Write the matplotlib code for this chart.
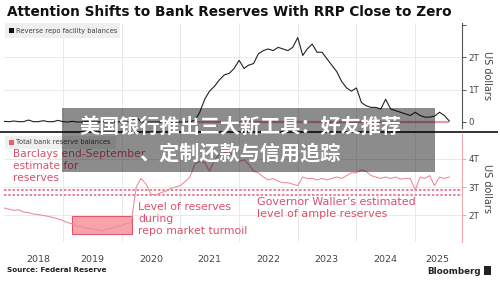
import matplotlib
matplotlib.use('Agg')
import matplotlib.pyplot as plt
import matplotlib.dates as mdates
import pandas as pd
from matplotlib.patches import Rectangle
from matplotlib.lines import Line2D

# ---------------- data ----------------
months = pd.date_range('2018-01-01', '2025-08-01', freq='MS')

# Reverse repo facility balances (trillion USD)
rrp = [0.02, 0.01, 0.03, 0.01, 0.01, 0.06, 0.01, 0.01, 0.04, 0.01, 0.01, 0.05,
       0.01, 0.00, 0.02, 0.00, 0.00, 0.02, 0.00, 0.00, 0.01, 0.00, 0.00, 0.01,
       0.00, 0.00, 0.01, 0.15, 0.00, 0.00, 0.00, 0.00, 0.00, 0.00, 0.00, 0.00,
       0.00, 0.00, 0.01, 0.05, 0.30, 0.70, 0.95, 1.10, 1.30, 1.45, 1.50, 1.65,
       1.90, 1.65, 1.75, 1.80, 2.10, 2.20, 2.25, 2.20, 2.30, 2.25, 2.20, 2.30,
       2.60, 2.05, 2.25, 2.40, 2.15, 2.15, 1.95, 1.75, 1.55, 1.25, 1.05, 0.95,
       1.05, 0.60, 0.50, 0.45, 0.45, 0.40, 0.70, 0.40, 0.35, 0.30, 0.25, 0.20,
       0.30, 0.20, 0.15, 0.15, 0.18, 0.30, 0.20, 0.03]

# Total bank reserve balances (trillion USD)
reserves = [2.26, 2.22, 2.18, 2.20, 2.12, 2.10, 2.05, 2.03, 2.00, 1.97, 1.93, 1.88,
            1.82, 1.75, 1.70, 1.62, 1.60, 1.55, 1.52, 1.50, 1.45, 1.52, 1.55, 1.62,
            1.65, 1.72, 1.75, 3.00, 3.30, 3.10, 2.75, 2.72, 2.80, 2.85, 2.95, 3.00,
            3.05, 3.20, 3.35, 3.80, 3.90, 3.85, 3.55, 3.95, 4.15, 4.20, 4.25, 4.05,
            3.90, 3.95, 3.80, 3.55, 3.50, 3.35, 3.25, 3.30, 3.20, 3.15, 3.15, 3.10,
            3.05, 3.35, 3.30, 3.30, 3.25, 3.30, 3.25, 3.30, 3.35, 3.30, 3.40, 3.50,
            3.50, 3.60, 3.55, 3.40, 3.35, 3.30, 3.35, 3.30, 3.35, 3.28, 3.30, 3.30,
            2.90, 3.35, 3.30, 3.40, 3.05, 3.35, 3.30, 3.35]

barclays_est = 2.90
waller_est = 2.72
turmoil_start, turmoil_end = '2019-03-01', '2020-03-05'
turmoil_low, turmoil_high = 1.35, 1.98
rrp_zero_start, rrp_zero_end = '2021-04-01', '2025-08-01'

year_labels = ['2018', '2019', '2020', '2021', '2022', '2023', '2024', '2025']
year_label_dates = ['2018-08-03', '2019-07-01', '2020-07-01', '2021-07-01',
                    '2022-07-01', '2023-07-01', '2024-07-01', '2025-05-20']
year_bounds = ['2019-01-01', '2020-01-01', '2021-01-01', '2022-01-01',
               '2023-01-01', '2024-01-01', '2025-01-01']

# ---------------- figure ----------------
W, H = 500, 282
fig = plt.figure(figsize=(5.0, 2.82), dpi=100)
fig.patch.set_facecolor('white')

def fx(x):
    return x / W

def fy(y):
    return 1 - y / H

def box(x0, y0, x1, y1):
    return [fx(x0), fy(y1), fx(x1) - fx(x0), fy(y0) - fy(y1)]

xmin = pd.Timestamp('2018-01-01')
xmax = pd.Timestamp('2025-10-19')

PINK_LINE = '#ec8f9c'
PINK_TXT = '#d9506a'
GRID = '#e6e6e6'
TICK_TXT = '#444444'

ax1 = fig.add_axes(box(4.3, 23, 462, 128))
ax2 = fig.add_axes(box(4.3, 134, 462, 242))

for ax in (ax1, ax2):
    ax.set_xlim(xmin, xmax)
    for s in ('left', 'top', 'bottom'):
        ax.spines[s].set_visible(False)
    ax.yaxis.tick_right()
    ax.tick_params(axis='y', direction='out', length=3, width=0.7,
                   labelsize=6.3, labelcolor=TICK_TXT, pad=1.5)
    for d in year_bounds:
        ax.axvline(pd.Timestamp(d), color=GRID, lw=0.6, zorder=0)

# top panel
ax1.set_ylim(-0.185, 3.05)
ax1.spines['right'].set_color('#555555')
ax1.spines['right'].set_linewidth(0.8)
ax1.tick_params(axis='y', colors='#555555', labelcolor=TICK_TXT)
ax1.set_yticks([0, 1, 2, 3])
ax1.set_yticklabels(['0', '1T', '2T', ''])
for v in (1, 2):
    ax1.axhline(v, color=GRID, lw=0.6, zorder=0)
ax1.set_xticks([])
ax1.plot([pd.Timestamp(rrp_zero_start), pd.Timestamp(rrp_zero_end)], [0, 0],
         color='#e89aa4', lw=1.6, zorder=2, solid_capstyle='butt')
ax1.plot(months, rrp, color='#222222', lw=0.8, zorder=3)
ax1.yaxis.set_label_position('right')
ax1.set_ylabel('US dollars', rotation=270, fontsize=7, color=TICK_TXT, labelpad=9)

# bottom panel
ax2.set_ylim(1.07, 4.86)
ax2.spines['right'].set_color('#f0a8b0')
ax2.spines['right'].set_linewidth(0.8)
ax2.tick_params(axis='y', colors='#f0a8b0', labelcolor=TICK_TXT)
ax2.set_yticks([2, 3, 4])
ax2.set_yticklabels(['2T', '3T', '4T'])
for v in (2, 3, 4):
    ax2.axhline(v, color=GRID, lw=0.6, zorder=0)
ax2.add_patch(Rectangle((mdates.date2num(pd.Timestamp(turmoil_start)), turmoil_low),
                        mdates.date2num(pd.Timestamp(turmoil_end)) - mdates.date2num(pd.Timestamp(turmoil_start)),
                        turmoil_high - turmoil_low,
                        facecolor='#f6a3ab', edgecolor='#e0566c', lw=0.8, zorder=1))
for v in (barclays_est, waller_est):
    ax2.axhline(v, color='#e0607a', lw=1.1, ls=(0, (1.6, 1.2)), zorder=2)
ax2.plot(months, reserves, color=PINK_LINE, lw=0.8, zorder=3)
ax2.set_xticks([pd.Timestamp(d) for d in year_label_dates])
ax2.set_xticklabels(year_labels)
ax2.tick_params(axis='x', length=0, labelsize=6.8, labelcolor=TICK_TXT, pad=9)
ax2.yaxis.set_label_position('right')
ax2.set_ylabel('US dollars', rotation=270, fontsize=7, color=TICK_TXT, labelpad=9)

# separator line
fig.add_artist(Line2D([0, fx(497)], [fy(132), fy(132)], color='#333333', lw=1.4))

# title
fig.text(fx(7), fy(12), 'Attention Shifts to Bank Reserves With RRP Close to Zero',
         fontsize=9.85, fontweight='bold', color='#111111', va='center', ha='left')

# legend boxes
fig.add_artist(Rectangle((fx(5), fy(38)), fx(120) - fx(5), fy(23) - fy(38),
                         facecolor='#efefef', edgecolor='none', transform=fig.transFigure, zorder=5))
fig.add_artist(Rectangle((fx(8.5), fy(33)), fx(5), fy(28) - fy(33),
                         facecolor='#111111', edgecolor='none', transform=fig.transFigure, zorder=6))
fig.text(fx(16), fy(30.5), 'Reverse repo facility balances', fontsize=4.9,
         color='#444444', va='center', ha='left', zorder=6)

fig.add_artist(Rectangle((fx(5), fy(149)), fx(116) - fx(5), fy(136) - fy(149),
                         facecolor='#efefef', edgecolor='none', transform=fig.transFigure, zorder=5))
fig.add_artist(Rectangle((fx(8.5), fy(145)), fx(5), fy(140) - fy(145),
                         facecolor='#e8606f', edgecolor='none', transform=fig.transFigure, zorder=6))
fig.text(fx(16), fy(142.5), 'Total bank reserve balances', fontsize=4.9,
         color='#444444', va='center', ha='left', zorder=6)

# annotations
fig.text(fx(13), fy(149), 'Barclays end-September\nestimate for\nreserves', fontsize=7.7,
         color=PINK_TXT, va='top', ha='left', linespacing=1.25, zorder=7)
fig.text(fx(138), fy(202), 'Level of reserves\nduring\nrepo market turmoil', fontsize=7.8,
         color=PINK_TXT, va='top', ha='left', linespacing=1.25, zorder=7)
fig.text(fx(257), fy(197), "Governor Waller's estimated\nlevel of ample reserves", fontsize=8.0,
         color=PINK_TXT, va='top', ha='left', linespacing=1.2, zorder=7)

# footer
fig.text(fx(7), fy(270), 'Source: Federal Reserve', fontsize=5.2, fontweight='bold',
         color='#222222', va='center', ha='left')
fig.text(fx(481), fy(271), 'Bloomberg', fontsize=6.3, fontweight='bold',
         color='#222222', va='center', ha='right')
fig.add_artist(Rectangle((fx(484), fy(275)), fx(7), fy(266) - fy(275),
                         facecolor='#222222', edgecolor='none', transform=fig.transFigure))

# overlay banner
fig.add_artist(Rectangle((fx(62), fy(172)), fx(435) - fx(62), fy(108) - fy(172),
                         facecolor='black', alpha=0.45, edgecolor='none',
                         transform=fig.transFigure, zorder=20))
fig.text(fx(240), fy(126), '美国银行推出三大新工具：好友推荐', fontsize=14.5, fontweight='bold',
         color='white', ha='center', va='center', family=['Noto Sans CJK SC', 'DejaVu Sans'], zorder=21)
fig.text(fx(240), fy(153), '、定制还款与信用追踪', fontsize=14.5, fontweight='bold',
         color='white', ha='center', va='center', family=['Noto Sans CJK SC', 'DejaVu Sans'], zorder=21)

fig.savefig('out.png', dpi=100, facecolor='white')
